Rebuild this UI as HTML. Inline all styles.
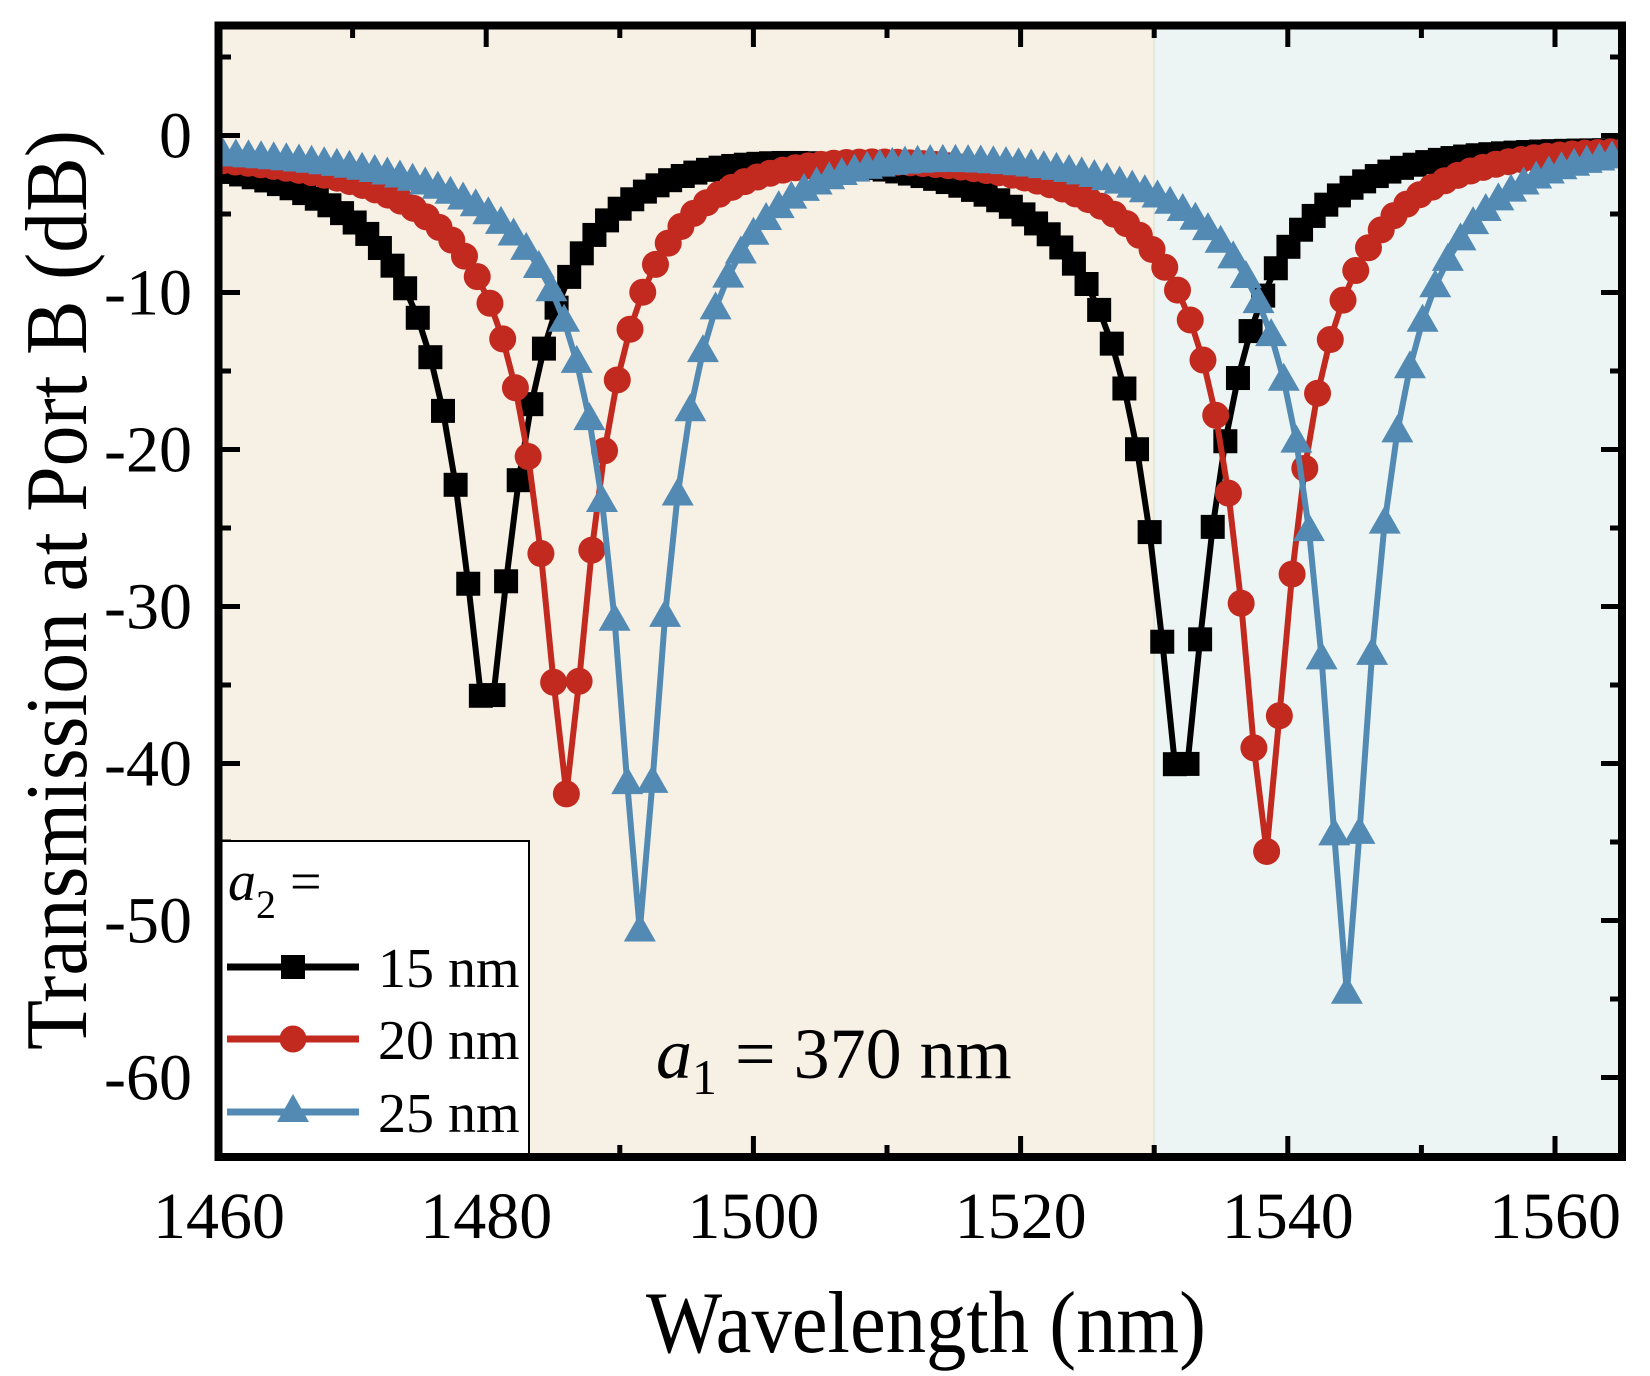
<!DOCTYPE html>
<html><head><meta charset="utf-8"><style>
html,body{margin:0;padding:0;background:#fff;}
svg{display:block;font-family:"Liberation Serif","Times New Roman",serif;}
</style></head><body>
<svg id="s" width="1650" height="1376" viewBox="0 0 1650 1376" xmlns="http://www.w3.org/2000/svg">
<defs><clipPath id="cp"><rect x="219" y="26" width="1403" height="1131"/></clipPath></defs>
<rect x="219" y="26" width="935" height="1131" fill="#f7f0e5"/>
<rect x="1154" y="26" width="468" height="1131" fill="#ecf5f3"/>
<line x1="1154" y1="26" x2="1154" y2="1157" stroke="#e2e9da" stroke-width="2"/>
<g id="curves" clip-path="url(#cp)"></g>
<g id="ticks" stroke="#000" stroke-width="5"></g>
<rect x="219" y="841" width="310" height="316" fill="#fff" stroke="#000" stroke-width="2"/>
<rect x="218.5" y="25.5" width="1403.5" height="1131.5" fill="none" stroke="#000" stroke-width="8"/>
<g font-size="56">
<text x="228" y="900" font-style="italic">a</text><text x="256" y="918" font-size="40">2</text><text x="290" y="900">=</text>
<line x1="227" y1="967" x2="359" y2="967" stroke="#000" stroke-width="7"/>
<rect x="281" y="955" width="24" height="24" fill="#000"/>
<text x="378" y="987">15 nm</text>
<line x1="227" y1="1039" x2="359" y2="1039" stroke="#c22a20" stroke-width="7"/>
<circle cx="293" cy="1039" r="13.5" fill="#c22a20"/>
<text x="378" y="1059">20 nm</text>
<line x1="227" y1="1112" x2="359" y2="1112" stroke="#528ab4" stroke-width="7"/>
<polygon points="293,1094 277,1122 309,1122" fill="#528ab4"/>
<text x="378" y="1132">25 nm</text>
</g>
<g font-size="72"><text x="656" y="1078" font-style="italic">a</text><text x="692" y="1094" font-size="50">1</text><text x="735" y="1078">= 370 nm</text></g>
<g id="labels" font-size="66"></g>
<text x="926" y="1352" font-size="88" text-anchor="middle" textLength="560" lengthAdjust="spacingAndGlyphs">Wavelength (nm)</text>
<text transform="translate(86,590) rotate(-90)" font-size="88" text-anchor="middle" textLength="920" lengthAdjust="spacingAndGlyphs">Transmission at Port B (dB)</text>
</svg>
<script>
(function(){
var NS="http://www.w3.org/2000/svg";
function X(l){return 219+(l-1460)*13.36;}
function Y(d){return 135.5-d*15.7;}
function el(t,a,p){var e=document.createElementNS(NS,t);for(var k in a)e.setAttribute(k,a[k]);p.appendChild(e);return e;}
var series=[
 {c:"#000",m:"sq",base:-0.9,s0:1479.6,st:0.9445,dips:[[1480.07,37.0,2.92],[1532.02,41.6,3.0]]},
 {c:"#c22a20",m:"ci",base:-0.9,s0:1486.0,st:0.953,dips:[[1486.0,41.0,2.71],[1538.32,45.0,2.69]]},
 {c:"#528ab4",m:"tr",base:-0.8,s0:1491.5,st:0.945,dips:[[1491.5,49.8,2.51],[1544.42,53.8,2.52]]}
];
var g=document.getElementById("curves");
series.forEach(function(S){
 var k0=Math.ceil((1459-S.s0)/S.st),pts=[];
 for(var k=k0;;k++){var l=S.s0+k*S.st;if(l>1566.5)break;
  var v=S.base;S.dips.forEach(function(D){var dd=l-D[0],d=Math.abs(dd)/D[2];var T=dd>0?17:32;
   v-=D[1]/(1+Math.pow(d,1.5))*Math.exp(-(dd/T)*(dd/T));});
  pts.push([X(l),Y(v)]);}
 el("polyline",{points:pts.map(function(p){return p[0].toFixed(1)+","+p[1].toFixed(1)}).join(" "),fill:"none",stroke:S.c,"stroke-width":6,"stroke-linejoin":"round"},g);
 pts.forEach(function(p){var x=p[0],y=p[1];
  if(S.m=="sq")el("rect",{x:x-12,y:y-12,width:24,height:24,fill:S.c},g);
  else if(S.m=="ci")el("circle",{cx:x,cy:y,r:13.5,fill:S.c},g);
  else el("polygon",{points:x+","+(y-17)+" "+(x-16)+","+(y+11)+" "+(x+16)+","+(y+11),fill:S.c},g);});
});
var t=document.getElementById("ticks"),lb=document.getElementById("labels");
for(var l=1460;l<=1565;l+=10){var x=X(l),maj=(l%20==0),L=maj?21:12;
 el("line",{x1:x,y1:1157,x2:x,y2:1157-L},t);el("line",{x1:x,y1:26,x2:x,y2:26+L},t);
 if(maj){var tx=el("text",{x:x,y:1238,"text-anchor":"middle"},lb);tx.textContent=l;}}
for(var d=5;d>=-65;d-=5){var y=Y(d),maj=(d%10==0),L=maj?21:12;
 el("line",{x1:219,y1:y,x2:219+L,y2:y},t);el("line",{x1:1622,y1:y,x2:1622-L,y2:y},t);
 if(maj&&d<=0&&d>=-60){var ty=el("text",{x:192,y:y+22,"text-anchor":"end"},lb);ty.textContent=d;}}
})();
</script>
</body></html>
